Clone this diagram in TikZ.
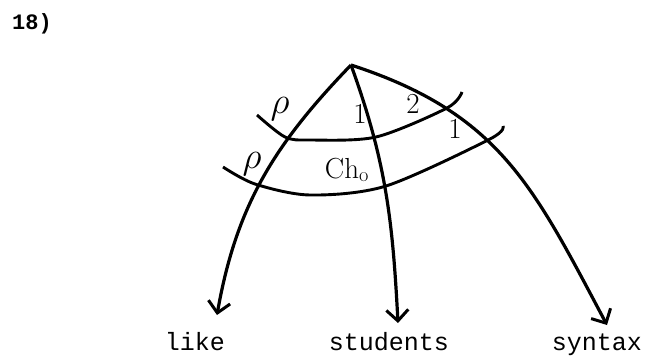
\documentclass[tikz,border=0pt]{standalone}
\usepackage{fontspec}
\setmonofont{Liberation Mono}
\usetikzlibrary{arrows.meta}
\newcommand{\bigrho}{\scalebox{1.5}{$\rho$}}

\begin{document}
\begin{tikzpicture}[
  x=1pt, y=1pt,
  every node/.style={inner sep=0pt},
  word/.style={font=\fontsize{25}{27}\selectfont\ttfamily, anchor=base},
  tag/.style={font=\fontsize{29}{31}\selectfont},
  branch/.style={line width=3.2pt,
    -{Straight Barb[length=11pt,width=22pt,line width=3pt]}},
  band/.style={line width=2.9pt}
]
\useasboundingbox (0,0) rectangle (648,357);

\node[font=\fontsize{22}{24}\selectfont\ttfamily\bfseries] (num) at (32,333) {18)};

% 根と三つの語
\coordinate (top) at (351,292);
\node[word] (like) at (195,7) {like};
\node[word] (students) at (389,7) {students};
\node[word] (syntax) at (597,7) {syntax};

% 矢の先
\coordinate (likeEnd) at (217,42);
\coordinate (studentsEnd) at (398,34);
\coordinate (syntaxEnd) at (607,32);

\draw[branch] (top) to[out=226,in=80] (likeEnd);
\draw[branch] (top) to[out=-70,in=93] (studentsEnd);
\draw[branch] (top) to[out=-18,in=118,looseness=1.1] (syntaxEnd);

% 二本の弧
\draw[band] plot[smooth] coordinates
  {(257,242) (285,220) (310,217) (376,220) (447,249) (462,265)};
\draw[band] plot[smooth] coordinates
  {(223,190) (255,173) (310,162) (386,171) (490,218) (503,231)};

% 弧の上のしるし
\node[tag] (rhoA) at (280,248) {\bigrho};
\node[tag] (oneA) at (360,243) {1};
\node[tag] (two) at (413,253) {2};
\node[tag] (oneB) at (455,228) {1};
\node[tag] (rhoB) at (252,193) {\bigrho};
\node[tag] (cho) at (347,187) {Ch$_{\mathrm{o}}$};

\end{tikzpicture}
\end{document}
